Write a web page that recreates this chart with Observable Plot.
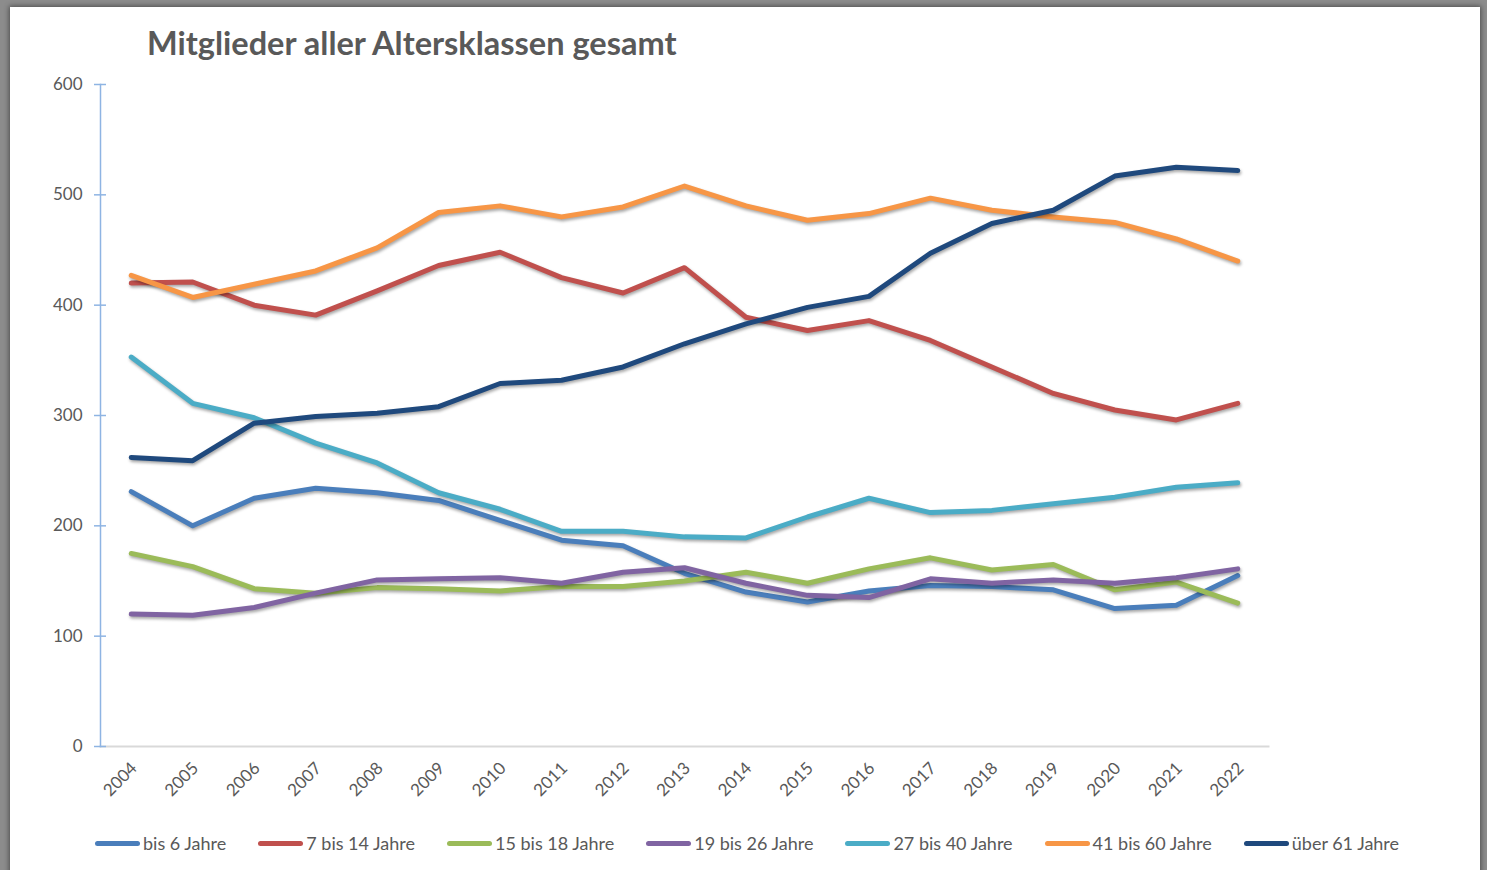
<!DOCTYPE html>
<html><head><meta charset="utf-8">
<script src="https://cdn.jsdelivr.net/npm/d3@7"></script>
<script src="https://cdn.jsdelivr.net/npm/@observablehq/plot@0.6"></script>
<style>
html,body{margin:0;padding:0;}
body{width:1487px;height:870px;background:#8c8c8c;position:relative;overflow:hidden;font-family:Lato,"Open Sans",sans-serif;}
#panel{position:absolute;left:10px;top:7px;width:1470px;height:880px;background:#fff;box-shadow:0 0 5px 1px rgba(0,0,0,.45);}
#title{position:absolute;left:147px;top:27px;font-size:32.5px;font-weight:bold;color:#595959;white-space:nowrap;line-height:1;}
#chart{position:absolute;left:0;top:60px;}
#legend{position:absolute;left:95px;top:832px;display:flex;gap:32px;font-size:18px;color:#595959;line-height:22px;white-space:nowrap;}
.item{display:flex;align-items:center;}
.sw{width:45px;height:5px;border-radius:3px;margin-right:3px;}
#chart svg g[aria-label="line"] path{filter:drop-shadow(1px 2px 1.5px rgba(0,0,0,0.35));}
</style>
</head><body>
<div id="panel"></div>
<div id="title"></div>
<div id="chart"></div>
<div id="legend"></div>
<script>
const titleText = "Mitglieder aller Altersklassen gesamt";
const years = [2004,2005,2006,2007,2008,2009,2010,2011,2012,2013,2014,2015,2016,2017,2018,2019,2020,2021,2022];
const yTicks = [0,100,200,300,400,500,600];
const seriesNames = ["bis 6 Jahre","7 bis 14 Jahre","15 bis 18 Jahre","19 bis 26 Jahre","27 bis 40 Jahre","41 bis 60 Jahre","über 61 Jahre"];
const seriesColors = ["#4a7ebb","#c0504d","#9bbb59","#8064a2","#4bacc6","#f79646","#1f497d"];
const bis6    = [231,200,225,234,230,223,205,187,182,157,140,131,141,146,145,142,125,128,155];
const bis14   = [420,421,400,391,413,436,448,425,411,434,389,377,386,368,344,320,305,296,311];
const bis18   = [175,163,143,139,144,143,141,145,145,150,158,148,161,171,160,165,142,149,130];
const bis26   = [120,119,126,139,151,152,153,148,158,162,148,137,135,152,148,151,148,153,161];
const bis40   = [353,311,298,275,257,230,215,195,195,190,189,208,225,212,214,220,226,235,239];
const bis60   = [427,407,419,431,452,484,490,480,489,508,490,477,483,497,486,480,475,460,440];
const ueber61 = [262,259,293,299,302,308,329,332,344,365,383,398,408,447,474,486,517,525,522];
const seriesValues = [bis6,bis14,bis18,bis26,bis40,bis60,ueber61];

const data = [];
seriesNames.forEach((name,i) => years.forEach((yr,j) => data.push({series:name, year:yr, value:seriesValues[i][j]})));

document.getElementById("title").textContent = titleText;

const chart = Plot.plot({
  width: 1487, height: 760,
  marginLeft: 100, marginRight: 219, marginTop: 24, marginBottom: 74,
  style: {fontFamily: "Lato, 'Open Sans', sans-serif", fontSize: "17px", color: "#595959", background: "transparent"},
  x: {domain: [2003.5, 2022.5]},
  y: {domain: [0, 600]},
  color: {domain: seriesNames, range: seriesColors},
  marks: [
    Plot.frame({anchor: "bottom", stroke: "#d9d9d9", strokeWidth: 2}),
    Plot.frame({anchor: "left", stroke: "#8eb4e3", strokeWidth: 1.5}),
    Plot.axisY({ticks: yTicks, tickSize: 12, dx: 6, tickPadding: 12, stroke: "#8eb4e3", strokeWidth: 1.5, color: "#595959", label: null, tickFormat: "d"}),
    Plot.axisX({ticks: years, tickSize: 0, tickRotate: -45, tickPadding: 19, dx: 3, color: "#595959", label: null, tickFormat: "d"}),
    Plot.line(data, {x: "year", y: "value", z: "series", stroke: "series", strokeWidth: 5, strokeLinecap: "round", strokeLinejoin: "round"})
  ]
});
document.getElementById("chart").appendChild(chart);

const legend = document.getElementById("legend");
seriesNames.forEach((name,i) => {
  const it = document.createElement("div"); it.className = "item";
  const sw = document.createElement("div"); sw.className = "sw"; sw.style.background = seriesColors[i];
  const tx = document.createElement("span"); tx.textContent = name;
  it.appendChild(sw); it.appendChild(tx); legend.appendChild(it);
});
</script>
</body></html>
